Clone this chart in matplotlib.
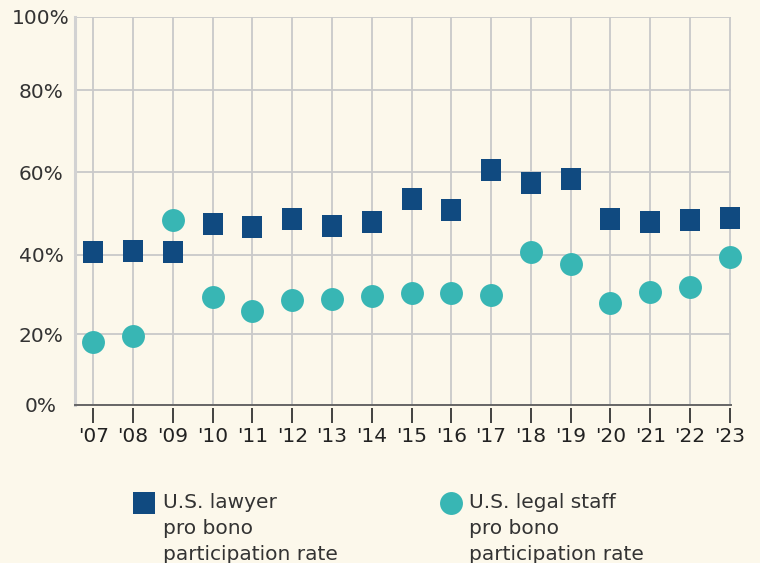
import matplotlib
matplotlib.use("Agg")
import matplotlib.pyplot as plt
import matplotlib.transforms as mtransforms
from matplotlib.lines import Line2D
import numpy as np

# data
years = [2007, 2008, 2009, 2010, 2011, 2012, 2013, 2014, 2015,
         2016, 2017, 2018, 2019, 2020, 2021, 2022, 2023]
year_labels = ["'07", "'08", "'09", "'10", "'11", "'12", "'13", "'14", "'15",
               "'16", "'17", "'18", "'19", "'20", "'21", "'22", "'23"]
lawyer = [40.8, 41.0, 40.8, 47.5, 46.8, 48.6, 46.9, 47.9, 53.5,
          50.8, 60.5, 57.3, 58.3, 48.6, 47.9, 48.4, 49.0]
staff = [17.8, 19.5, 48.5, 29.3, 26.0, 28.7, 28.8, 29.7, 30.5,
         30.5, 30.0, 40.7, 37.8, 27.9, 30.6, 32.0, 39.4]
y_ticks = [0, 20, 40, 60, 80, 100]
y_labels = ["0%", "20%", "40%", "60%", "80%", "100%"]

BG = "#FCF8EB"
NAVY = "#104A80"
TEAL = "#38B6B4"
GRID = "#C9C9C9"
TXT = "#333333"
FS = 14.5

# the original's gridlines are not evenly spaced; follow them piecewise
grid_px = np.array([0, 70.7, 150, 232.7, 315, 388.3])
grid_val = np.array(y_ticks, dtype=float)

def fwd(v):
    return np.interp(v, grid_val, grid_px)

def inv(p):
    return np.interp(p, grid_px, grid_val)

# square marker a bit taller than wide, as in the picture
rect = [(-0.435, -0.5), (0.435, -0.5), (0.435, 0.5), (-0.435, 0.5), (-0.435, -0.5)]

fig = plt.figure(figsize=(7.6, 5.63), dpi=100, facecolor=BG)
ax = fig.add_axes([75/760, 158/563, 656/760, 388.3/563])
ax.set_facecolor(BG)
ax.set_yscale("function", functions=(fwd, inv))
ax.set_xlim(2006.54, 2023.03)
ax.set_ylim(0, 100)

ax.set_yticks(y_ticks)
ax.set_yticklabels(y_labels, ha="center")
ax.set_xticks(years)
ax.set_xticklabels(year_labels)
ax.yaxis.set_minor_locator(matplotlib.ticker.NullLocator())

ax.grid(True, color=GRID, linewidth=1.3, zorder=0)
ax.set_axisbelow(True)

for s in ["top", "right"]:
    ax.spines[s].set_visible(False)
ax.spines["left"].set_color("#D2D2D2")
ax.spines["left"].set_linewidth(2.2)
ax.spines["bottom"].set_color("#666666")
ax.spines["bottom"].set_linewidth(1.4)

ax.tick_params(axis="y", length=0, pad=24.5, labelsize=FS, labelcolor=TXT)
ax.tick_params(axis="x", length=0, pad=16, labelsize=FS, labelcolor="#222222")

# ticks sit a little below the axis line
trans = mtransforms.blended_transform_factory(ax.transData, ax.transAxes)
ax.vlines(years, -0.046, -0.008, transform=trans, color="#333333",
          linewidth=1.3, clip_on=False)

ax.plot(years, lawyer, linestyle="none", marker=rect, markersize=16.5,
        color=NAVY, markeredgewidth=0, zorder=3, clip_on=False)
ax.plot(years, staff, linestyle="none", marker="o", markersize=16.5,
        color=TEAL, markeredgewidth=0, zorder=3, clip_on=False)

# legend drawn by hand, marker next to first line of text
fig.add_artist(Line2D([144/760], [1 - 502.5/563], transform=fig.transFigure,
                      marker="s", markersize=16.5, color=NAVY,
                      markeredgewidth=0, linestyle="none"))
fig.text(163/760, 1 - 493/563, "U.S. lawyer\npro bono\nparticipation rate",
         ha="left", va="top", fontsize=FS, color=TXT, linespacing=1.45)
fig.add_artist(Line2D([451/760], [1 - 502.5/563], transform=fig.transFigure,
                      marker="o", markersize=16.5, color=TEAL,
                      markeredgewidth=0, linestyle="none"))
fig.text(469/760, 1 - 493/563, "U.S. legal staff\npro bono\nparticipation rate",
         ha="left", va="top", fontsize=FS, color=TXT, linespacing=1.45)

fig.savefig("out.png", dpi=100, facecolor=BG)
